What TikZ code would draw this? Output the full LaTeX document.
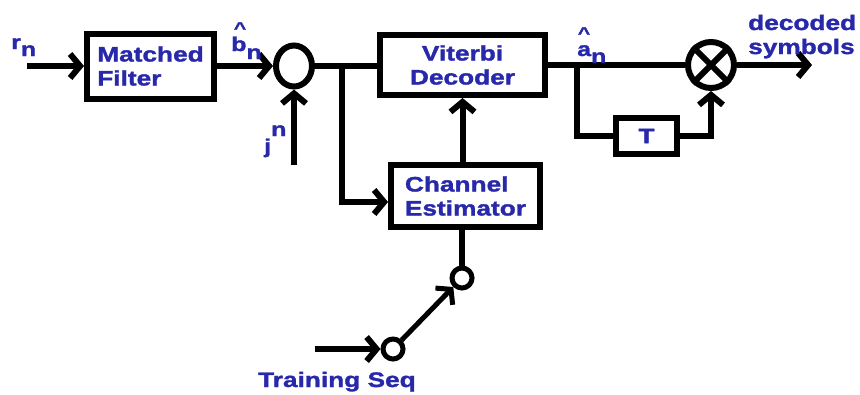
\documentclass[tikz,border=0pt]{standalone}
\usepackage{fontspec}
\setmainfont{Liberation Sans}[FakeStretch=1.25,BoldFeatures={FakeBold=1.5}]
\usetikzlibrary{arrows.meta,calc,shapes.geometric}
\definecolor{lblue}{RGB}{40,40,170}
\begin{document}
\begin{tikzpicture}[x=1pt,y=-1pt,
  wire/.style={line width=6pt},
  arr/.style={line width=6pt,-{Straight Barb[length=10pt,width=24pt]}},
  blk/.style={draw,line width=6pt,rectangle,inner sep=0pt,font=\bfseries\fontsize{21}{24}\selectfont,text=lblue},
  lbl/.style={text=lblue,font=\bfseries\fontsize{20}{22}\selectfont,inner sep=0pt},
  hat/.style={text=lblue,font=\bfseries\fontsize{17}{17}\selectfont,inner sep=0pt},
  summ/.style={draw,line width=6pt,ellipse,inner sep=0pt},
  sw/.style={draw,line width=5pt,circle,inner sep=0pt,minimum size=20pt}
]
\useasboundingbox (0,0) rectangle (860,394);
% blocks
\node[blk,minimum width=127pt,minimum height=65pt,align=left] (MF) at (150.5,66) {Matched\\Filter};
\node[blk,minimum width=165pt,minimum height=60pt,align=center] (VD) at (462.5,65) {Viterbi\\Decoder};
\node[blk,minimum width=149pt,minimum height=62pt,align=left] (CE) at (465.5,196) {Channel\\Estimator};
\node[blk,minimum width=61pt,minimum height=36pt] (TB) at (646.5,136) {T};
\node[summ,minimum width=36pt,minimum height=41pt] (S) at (294,66) {};
\node[summ,circle,minimum size=46pt] (M) at (711,65) {};
\draw[wire] (M.45) -- (M.225) (M.135) -- (M.315);
\node[sw] (SW1) at (462,278) {};
\node[sw] (SW2) at (393,349) {};
% coordinates
\coordinate (rin) at (27,66);
\coordinate (jin) at (294,165);
\coordinate (br1) at (342,66);
\coordinate (br2) at (577,65);
\coordinate (out) at (812,65);
\coordinate (tin) at (315,349);
% connectors
\draw[arr] (rin) -- (MF.west);
\draw[arr] (MF.east) -- (S.west);
\draw[arr] (jin) -- (S.south);
\draw[wire] (S.east) -- (S.east -| VD.west);
\draw[arr] (br1) |- ($(CE.west)+(0,6)$);
\draw[arr] (CE.north -| VD.south) -- (VD.south);
\draw[wire] (VD.east) -- (M.west);
\draw[wire] (br2) |- (TB.west);
\draw[arr] (TB.east) -| (M.south);
\draw[arr] (M.east) -- (out);
\draw[wire] (CE.south -| SW1.north) -- (SW1.north);
\draw[arr] (tin) -- (SW2.west);
\draw[arr,line width=5pt] (SW2) -- (SW1);
% labels
\node[lbl,anchor=base west] (lr) at (11,49) {r\raisebox{-7pt}{n}};
\node[lbl,anchor=base west] (lb) at (231,51) {b\raisebox{-8pt}{n}};
\node[hat,anchor=base] (hb) at (240,34) {\textasciicircum};
\node[lbl,anchor=base west] (lj) at (264,153) {j\raisebox{17pt}{n}};
\node[lbl,anchor=base west] (la) at (577,56) {a\raisebox{-7pt}{n}};
\node[hat,anchor=base] (ha) at (584,39) {\textasciicircum};
\node[lbl,font=\bfseries\fontsize{21}{24}\selectfont,anchor=base west,align=left] (ldec) at (748,54) {decoded\\symbols};
\node[lbl,font=\bfseries\fontsize{21}{24}\selectfont,anchor=base west] (ltr) at (258,387) {Training Seq};
\end{tikzpicture}
\end{document}
